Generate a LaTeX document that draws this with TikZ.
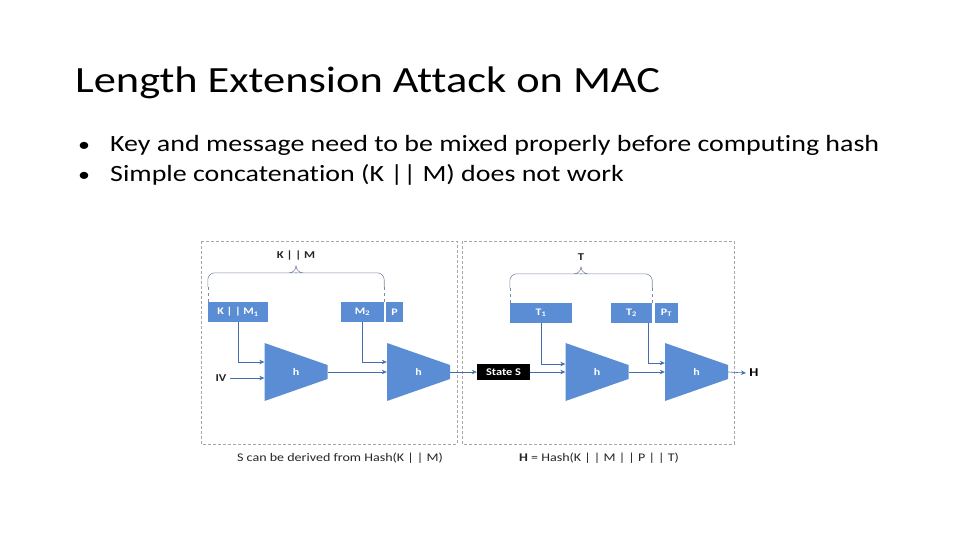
\documentclass[tikz,border=0pt]{standalone}
\usepackage{fontspec}
\setmainfont{Carlito}[FakeStretch=1.2, Ligatures=NoCommon]
\usetikzlibrary{calc, arrows.meta}
\definecolor{boxblue}{RGB}{91,141,212}
\definecolor{lineblue}{RGB}{70,110,175}
\definecolor{bracegray}{RGB}{125,140,165}

\begin{document}
\begin{tikzpicture}[x=1pt, y=-1pt,
  block/.style={fill=boxblue, text=white, font=\fontsize{10}{11}\selectfont\bfseries,
    minimum height=20, inner sep=0pt},
  hashunit/.style={minimum width=63, minimum height=58, inner sep=0pt,
    text=white, font=\fontsize{10}{11}\selectfont\bfseries,
    path picture={\fill[boxblue] (path picture bounding box.north west)
      -- ($(path picture bounding box.east)+(0,-7)$)
      -- ($(path picture bounding box.east)+(0,7)$)
      -- (path picture bounding box.south west) -- cycle;}},
  link/.style={lineblue, semithick, -{Stealth[length=5pt, width=4.5pt]}},
  frame/.style={gray!70, densely dashed, thin},
  curly/.style={bracegray, semithick, rounded corners=7pt},
  guideline/.style={bracegray, thin, dashed},
  tag/.style={font=\fontsize{10.5}{12}\selectfont\bfseries, text=black!85}]
  \useasboundingbox (0,0) rectangle (960,540);
  % titel en opsomming
  \node[anchor=base west, inner sep=0pt, font=\fontsize{37}{40}\selectfont] (title) at (75,92.3)
    {Length Extension Attack on MAC};
  \node[anchor=base west, inner sep=0pt, font=\fontsize{23.3}{26}\selectfont] (b1) at (110,151.7)
    {Key and message need to be mixed properly before computing hash};
  \node[anchor=base west, inner sep=0pt, font=\fontsize{23.3}{26}\selectfont] (b2) at (110,181.7)
    {Simple concatenation (K || M) does not work};
  \node[anchor=base west, inner sep=0pt, font=\fontsize{20}{26}\selectfont] (d1) at (78,151.7) {\textbullet};
  \node[anchor=base west, inner sep=0pt, font=\fontsize{20}{26}\selectfont] (d2) at (78,181.7) {\textbullet};
  % twee kaders
  \draw[frame] (201,241) rectangle (457,444);
  \draw[frame] (462,241) rectangle (734,444);
  % linker deel: Hash(K || M)
  \node[block, minimum width=60] (km1) at (238,312) {K | | M\textsubscript{1}};
  \node[block, minimum width=43] (m2) at (362.5,312) {M\textsubscript{2}};
  \node[block, minimum width=17] (p) at (394.5,312) {P};
  \node[hashunit] (h1) at (296,372) {h};
  \node[hashunit] (h2) at (418.5,372) {h};
  \node[tag] (iv) at (221,378) {IV};
  \draw[link] (km1.south) |- ($(h1.west)+(0,-10)$);
  \draw[link] (iv.east) -- (iv.east -| h1.west);
  \draw[link] (h1.east) -- (h2.west);
  \draw[link] (m2.south) |- ($(h2.west)+(0,-10)$);
  % accolade K || M
  \draw[guideline] (km1.north west) -- ++(0,-15) coordinate (kmL);
  \draw[guideline] (m2.north east) -- ++(0,-15) coordinate (kmR);
  \draw[curly] (kmL) |- ($(kmL)!0.5!(kmR)+(-6,-14)$) -- ++(6,0) -- ++(0,-5);
  \draw[curly] (kmR) |- ($(kmL)!0.5!(kmR)+(6,-14)$) -- ++(-6,0) -- ++(0,-5);
  \node[tag] (kmlabel) at ($(kmL)!0.5!(kmR)+(0,-31)$) {K | | M};
  % rechter deel: uitbreiding met T
  \node[fill=black, text=white, font=\fontsize{10.3}{11}\selectfont\bfseries,
    minimum width=53, minimum height=16, inner sep=0pt] (state) at (503.5,372) {State S};
  \node[block, minimum width=62] (t1) at (541,313) {T\textsubscript{1}};
  \node[block, minimum width=41] (t2) at (631.5,313) {T\textsubscript{2}};
  \node[block, minimum width=23] (pt) at (666.5,313) {P\textsubscript{T}};
  \node[hashunit] (h3) at (597,372) {h};
  \node[hashunit] (h4) at (696.5,372) {h};
  \node[tag, font=\fontsize{12}{13}\selectfont\bfseries, text=black] (hout) at (754,373) {H};
  \draw[link] (h2.east) -- (state.west);
  \draw[link] (state.east) -- (h3.west);
  \draw[link] (t1.south) |- ($(h3.west)+(0,-8)$);
  \draw[link] (h3.east) -- (h4.west);
  \draw[link] ($(t2.south east)+(-4,0)$) |- ($(h4.west)+(0,-9)$);
  \draw[link] (h4.east) -- (hout.west);
  % accolade T
  \draw[guideline] (t1.north west) -- ++(0,-15) coordinate (tL);
  \draw[guideline] (t2.north east) -- ++(0,-15) coordinate (tR);
  \draw[curly] (tL) |- ($(tL)!0.5!(tR)+(-6,-14)$) -- ++(6,0) -- ++(0,-5);
  \draw[curly] (tR) |- ($(tL)!0.5!(tR)+(6,-14)$) -- ++(-6,0) -- ++(0,-5);
  \node[tag] (tlabel) at ($(tL)!0.5!(tR)+(0,-31)$) {T};
  % onderschriften
  \node[font=\fontsize{11.7}{13}\selectfont, text=black!85] (capL) at (340,458)
    {S can be derived from Hash(K | | M)};
  \node[font=\fontsize{11.7}{13}\selectfont, text=black!85] (capR) at (599,458)
    {\textbf{H} = Hash(K | | M | | P | | T)};
\end{tikzpicture}
\end{document}
